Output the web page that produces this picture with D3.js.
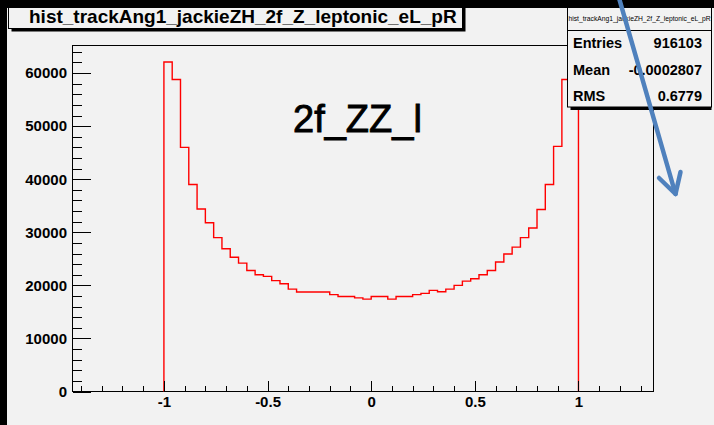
<!DOCTYPE html>
<html><head><meta charset="utf-8">
<script src="https://cdn.jsdelivr.net/npm/d3@7"></script>
<style>
html,body{margin:0;padding:0;background:#f2f2f2;}
svg{display:block;}
text{font-family:"Liberation Sans",Arial,Helvetica,sans-serif;}
</style></head><body>
<svg id="c" width="714" height="425"></svg>
<script>
// ---------------- data ----------------
const histTitle = "hist_trackAng1_jackieZH_2f_Z_leptonic_eL_pR";
const plotLabel = "2f_ZZ_l";
const binRange = [-1, 1];
const binCounts = [
  62100, 58800, 46000, 39000, 34400, 31800, 29000, 26900, 25300, 24200,
  22800, 22000, 21700, 20900, 20300, 19300, 18750, 18750, 18750, 18750,
  18250, 17900, 17900, 17650, 17400, 17900, 17900, 17400, 17900, 17900,
  18250, 18500, 19050, 18800, 19300, 20000, 20800, 21250, 22000, 22800,
  24400, 25900, 27200, 29000, 30800, 34300, 39000, 46200, 58800, 62000
];
const xAxisRange = [-1.441, 1.362];
const yAxisMax = 65200;
const xTickValues = [-1, -0.5, 0, 0.5, 1];
const xTickLabels = ["-1", "-0.5", "0", "0.5", "1"];
const yTickValues = [0, 10000, 20000, 30000, 40000, 50000, 60000];
const yTickLabels = ["0", "10000", "20000", "30000", "40000", "50000", "60000"];
const statsNames = ["Entries", "Mean", "RMS"];
const statsValues = ["916103", "-0.0002807", "0.6779"];

// ---------------- layout ----------------
const W = 714, H = 425;
const frame = {left: 72.5, right: 653.5, top: 45.5, bottom: 391.5};
const bg = "#f2f2f2";
const svg = d3.select("#c");

svg.append("rect").attr("x", 0).attr("y", 0).attr("width", W).attr("height", H).attr("fill", bg);

const x = d3.scaleLinear().domain(xAxisRange).range([frame.left, frame.right]);
const y = d3.scaleLinear().domain([0, yAxisMax]).range([frame.bottom, frame.top]);

// title box
const tb = svg.append("g");
tb.append("rect").attr("x", 11.5).attr("y", -10).attr("width", 454).attr("height", 41.5).attr("fill", "#000");
tb.append("rect").attr("x", 8.5).attr("y", -10).attr("width", 454).attr("height", 38.5)
  .attr("fill", bg).attr("stroke", "#000").attr("stroke-width", 1);
tb.append("text").attr("x", 29).attr("y", 22.7).attr("font-size", 19).attr("font-weight", "bold")
  .attr("fill", "#000").text(histTitle);

// frame
svg.append("rect").attr("x", frame.left).attr("y", frame.top)
  .attr("width", frame.right - frame.left).attr("height", frame.bottom - frame.top)
  .attr("fill", "none").attr("stroke", "#000").attr("stroke-width", 1).attr("shape-rendering", "crispEdges");

// histogram
const nb = binCounts.length;
const bw = (binRange[1] - binRange[0]) / nb;
const pts = [[binRange[0], 0]];
binCounts.forEach((c, i) => pts.push([binRange[0] + i * bw, c]));
pts.push([binRange[1], binCounts[nb - 1]]);
pts.push([binRange[1], 0]);
const line = d3.line().x(d => x(d[0])).y(d => y(d[1])).curve(d3.curveStepAfter);
svg.append("path").attr("d", line(pts)).attr("fill", "none").attr("stroke", "#ff0000")
  .attr("stroke-width", 1.4);

// axes
const xMinor = d3.range(-14, 14).map(i => i / 10).filter(v => v >= xAxisRange[0] && v <= xAxisRange[1] && Math.abs(v * 2 - Math.round(v * 2)) > 1e-6);
const yMinor = d3.range(0, yAxisMax, 2000).filter(v => v % 10000 !== 0);

function styleAxis(g) {
  g.select(".domain").remove();
  g.selectAll("line").attr("stroke", "#000").attr("shape-rendering", "crispEdges");
}
svg.append("g").attr("transform", `translate(0,${frame.bottom})`)
  .call(d3.axisTop(x).tickValues(xTickValues).tickSize(11).tickFormat("")).call(styleAxis);
svg.append("g").attr("transform", `translate(0,${frame.bottom})`)
  .call(d3.axisTop(x).tickValues(xMinor).tickSize(5.5).tickFormat("")).call(styleAxis);
const xl = svg.append("g").attr("transform", `translate(0,${frame.bottom})`)
  .call(d3.axisBottom(x).tickValues(xTickValues).tickSize(0).tickPadding(5.3).tickFormat((d, i) => xTickLabels[i]));
xl.call(styleAxis);
xl.selectAll("text").attr("font-size", 15).attr("font-weight", "bold").attr("fill", "#000")
  .attr("font-family", '"Liberation Sans",Arial,Helvetica,sans-serif');

svg.append("g").attr("transform", `translate(${frame.left},0)`)
  .call(d3.axisRight(y).tickValues(yTickValues).tickSize(18).tickFormat("")).call(styleAxis);
svg.append("g").attr("transform", `translate(${frame.left},0)`)
  .call(d3.axisRight(y).tickValues(yMinor).tickSize(9).tickFormat("")).call(styleAxis);
const yl = svg.append("g").attr("transform", `translate(${frame.left},0)`)
  .call(d3.axisLeft(y).tickValues(yTickValues).tickSize(0).tickPadding(5.5).tickFormat((d, i) => yTickLabels[i]));
yl.call(styleAxis);
yl.selectAll("text").attr("font-size", 15).attr("font-weight", "bold").attr("fill", "#000")
  .attr("font-family", '"Liberation Sans",Arial,Helvetica,sans-serif');

// big label
svg.append("text").attr("x", 293).attr("y", 131.7).attr("font-size", 38).attr("fill", "#000")
  .attr("stroke", "#000").attr("stroke-width", 0.9).text(plotLabel);

// stats box
const sb = svg.append("g");
sb.append("rect").attr("x", 570.5).attr("y", -10).attr("width", 141).attr("height", 120).attr("fill", "#000");
sb.append("rect").attr("x", 567.5).attr("y", -10).attr("width", 144).attr("height", 117)
  .attr("fill", bg).attr("stroke", "#000").attr("stroke-width", 1);
sb.append("line").attr("x1", 567.5).attr("x2", 711.5).attr("y1", 30.5).attr("y2", 30.5)
  .attr("stroke", "#000").attr("stroke-width", 1);
sb.append("text").attr("x", 639.5).attr("y", 20.5).attr("text-anchor", "middle").attr("font-size", 6.5)
  .attr("textLength", 142).attr("lengthAdjust", "spacingAndGlyphs").attr("fill", "#000").text(histTitle);
const rowY = [48.3, 75, 100.7];
statsNames.forEach((n, i) => {
  sb.append("text").attr("x", 573).attr("y", rowY[i]).attr("font-size", 14.5).attr("font-weight", "bold")
    .attr("fill", "#000").text(n);
  sb.append("text").attr("x", 702).attr("y", rowY[i]).attr("font-size", 14.5).attr("font-weight", "bold")
    .attr("text-anchor", "end").attr("fill", "#000").text(statsValues[i]);
});

// black window edges
svg.append("rect").attr("x", 0).attr("y", 0).attr("width", W).attr("height", 8).attr("fill", "#000");
svg.append("rect").attr("x", 0).attr("y", 0).attr("width", 7).attr("height", H).attr("fill", "#000");

// annotation arrow
const arrow = svg.append("g").attr("stroke", "#4f81bd").attr("stroke-width", 4.5)
  .attr("stroke-linecap", "round").attr("stroke-linejoin", "round").attr("fill", "none");
arrow.append("line").attr("x1", 619).attr("y1", -2).attr("x2", 675.5).attr("y2", 194);
arrow.append("polyline").attr("points", "659,178 675.5,194 680.5,172");
</script>
</body></html>
